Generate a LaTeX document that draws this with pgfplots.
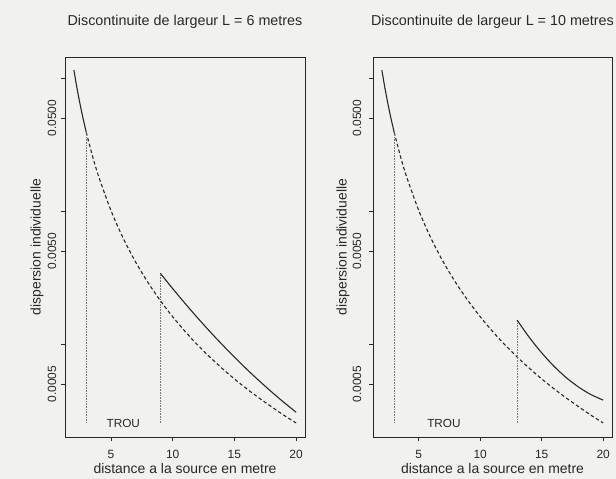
\documentclass[border=0pt]{standalone}
\usepackage{fontspec}
\setmainfont{Liberation Sans}
\usepackage{pgfplots}
\pgfplotsset{compat=1.18}
\definecolor{bg}{RGB}{241,241,239}
\definecolor{ink}{RGB}{40,40,40}
\definecolor{dotc}{RGB}{120,120,120}

\pgfplotsset{
 solidc/.style={ink, line width=1.1pt, smooth},
 dashc/.style={ink, line width=1.1pt, dash pattern=on 3.5bp off 2.5bp, smooth},
 vdot/.style={dotc, line width=0.6pt, dash pattern=on 0.7bp off 0.9bp},
}

\begin{document}
\begin{tikzpicture}
\path[fill=bg] (0,0) rectangle (616bp,479bp);

% ---------- left panel: L = 6 ----------
\begin{axis}[scale only axis, width=240bp, height=380bp, at={(65bp,42bp)}, anchor=south west,
  ymode=log, xmin=1.28, xmax=20.72, ymin=0.0002, ymax=0.144,
  axis line style={ink, line width=0.7pt},
  xtick={5,10,15,20}, xticklabels={5,10,15,20},
  ytick={0.0005,0.001,0.005,0.01,0.05,0.1},
  yticklabels={0.0005,,0.0050,,0.0500,},
  yminorticks=false, xminorticks=false,
  tick align=outside, major tick length=4bp,
  tick style={ink, line width=0.6pt},
  xtick pos=left, ytick pos=left,
  ticklabel style={font=\fontsize{12}{14}\selectfont, text=ink},
  xticklabel style={anchor=center, yshift=-13bp},
  yticklabel style={xshift=-9bp, rotate=90, anchor=center},
  xlabel={distance a la source en metre},
  ylabel={dispersion individuelle},
  label style={font=\fontsize{14}{16}\selectfont, text=ink},
  xlabel style={at={(axis description cs:0.5,-0.0816)}, anchor=center},
  ylabel style={at={(axis description cs:-0.1167,0.5)}, anchor=center},
  title style={at={(axis description cs:0.5,1.0763)}, anchor=center, font=\fontsize{14.4}{16}\selectfont, text=ink},
  title={Discontinuite de largeur L = 6 metres}]
\addplot[solidc] coordinates {(2,0.115)(2.25,0.0841)(2.5,0.0636)(2.75,0.04938)(3,0.03921)};
\addplot[dashc] coordinates {(3,0.03921)(3.5,0.02604)(4,0.01827)(5,0.01011)(6,0.00623)(7,0.004137)(8,0.002903)(9,0.002123)(10,0.001606)(11,0.001246)(12,0.000989)(13,0.000800)(14,0.000657)(15,0.000547)(16,0.000461)(17,0.000393)(18,0.000338)(19,0.000292)(20,0.000255)};
\addplot[vdot] coordinates {(3,0.03921)(3,0.000255)};
\addplot[vdot] coordinates {(9,0.000255)(9,0.003404)};
\addplot[solidc] coordinates {(9,0.003404)(10,0.002612)(11,0.002023)(12,0.001581)(13,0.001247)(14,0.000993)(15,0.000798)(16,0.000647)(17,0.000530)(18,0.000438)(19,0.000365)(20,0.000307)};
\node[text=ink, font=\fontsize{11.8}{13}\selectfont] at (axis cs:6,0.000255) {TROU};
\end{axis}

% ---------- right panel: L = 10 ----------
\begin{axis}[scale only axis, width=239bp, height=380bp, at={(373bp,42bp)}, anchor=south west,
  ymode=log, xmin=1.28, xmax=20.72, ymin=0.0002, ymax=0.144,
  axis line style={ink, line width=0.7pt},
  xtick={5,10,15,20}, xticklabels={5,10,15,20},
  ytick={0.0005,0.001,0.005,0.01,0.05,0.1},
  yticklabels={0.0005,,0.0050,,0.0500,},
  yminorticks=false, xminorticks=false,
  tick align=outside, major tick length=4bp,
  tick style={ink, line width=0.6pt},
  xtick pos=left, ytick pos=left,
  ticklabel style={font=\fontsize{12}{14}\selectfont, text=ink},
  xticklabel style={anchor=center, yshift=-13bp},
  yticklabel style={xshift=-12bp, rotate=90, anchor=center},
  xlabel={distance a la source en metre},
  ylabel={dispersion individuelle},
  label style={font=\fontsize{14}{16}\selectfont, text=ink},
  xlabel style={at={(axis description cs:0.5,-0.0816)}, anchor=center},
  ylabel style={at={(axis description cs:-0.1255,0.5)}, anchor=center},
  title style={at={(axis description cs:0.5,1.0763)}, anchor=center, font=\fontsize{14.4}{16}\selectfont, text=ink},
  title={Discontinuite de largeur L = 10 metres}]
\addplot[solidc] coordinates {(2,0.115)(2.25,0.0841)(2.5,0.0636)(2.75,0.04938)(3,0.03921)};
\addplot[dashc] coordinates {(3,0.03921)(3.5,0.02604)(4,0.01827)(5,0.01011)(6,0.00623)(7,0.004137)(8,0.002903)(9,0.002123)(10,0.001606)(11,0.001246)(12,0.000989)(13,0.000800)(14,0.000657)(15,0.000547)(16,0.000461)(17,0.000393)(18,0.000338)(19,0.000292)(20,0.000255)};
\addplot[vdot] coordinates {(3,0.03921)(3,0.000255)};
\addplot[vdot] coordinates {(13,0.000255)(13,0.001514)};
\addplot[solidc] coordinates {(13,0.001514)(14,0.001120)(15,0.000859)(16,0.000681)(17,0.000559)(18,0.000475)(19,0.000417)(20,0.000379)};
\node[text=ink, font=\fontsize{11.8}{13}\selectfont] at (axis cs:7.05,0.000255) {TROU};
\end{axis}

\pgfresetboundingbox
\path (0,0) rectangle (616bp,479bp);
\end{tikzpicture}
\end{document}
